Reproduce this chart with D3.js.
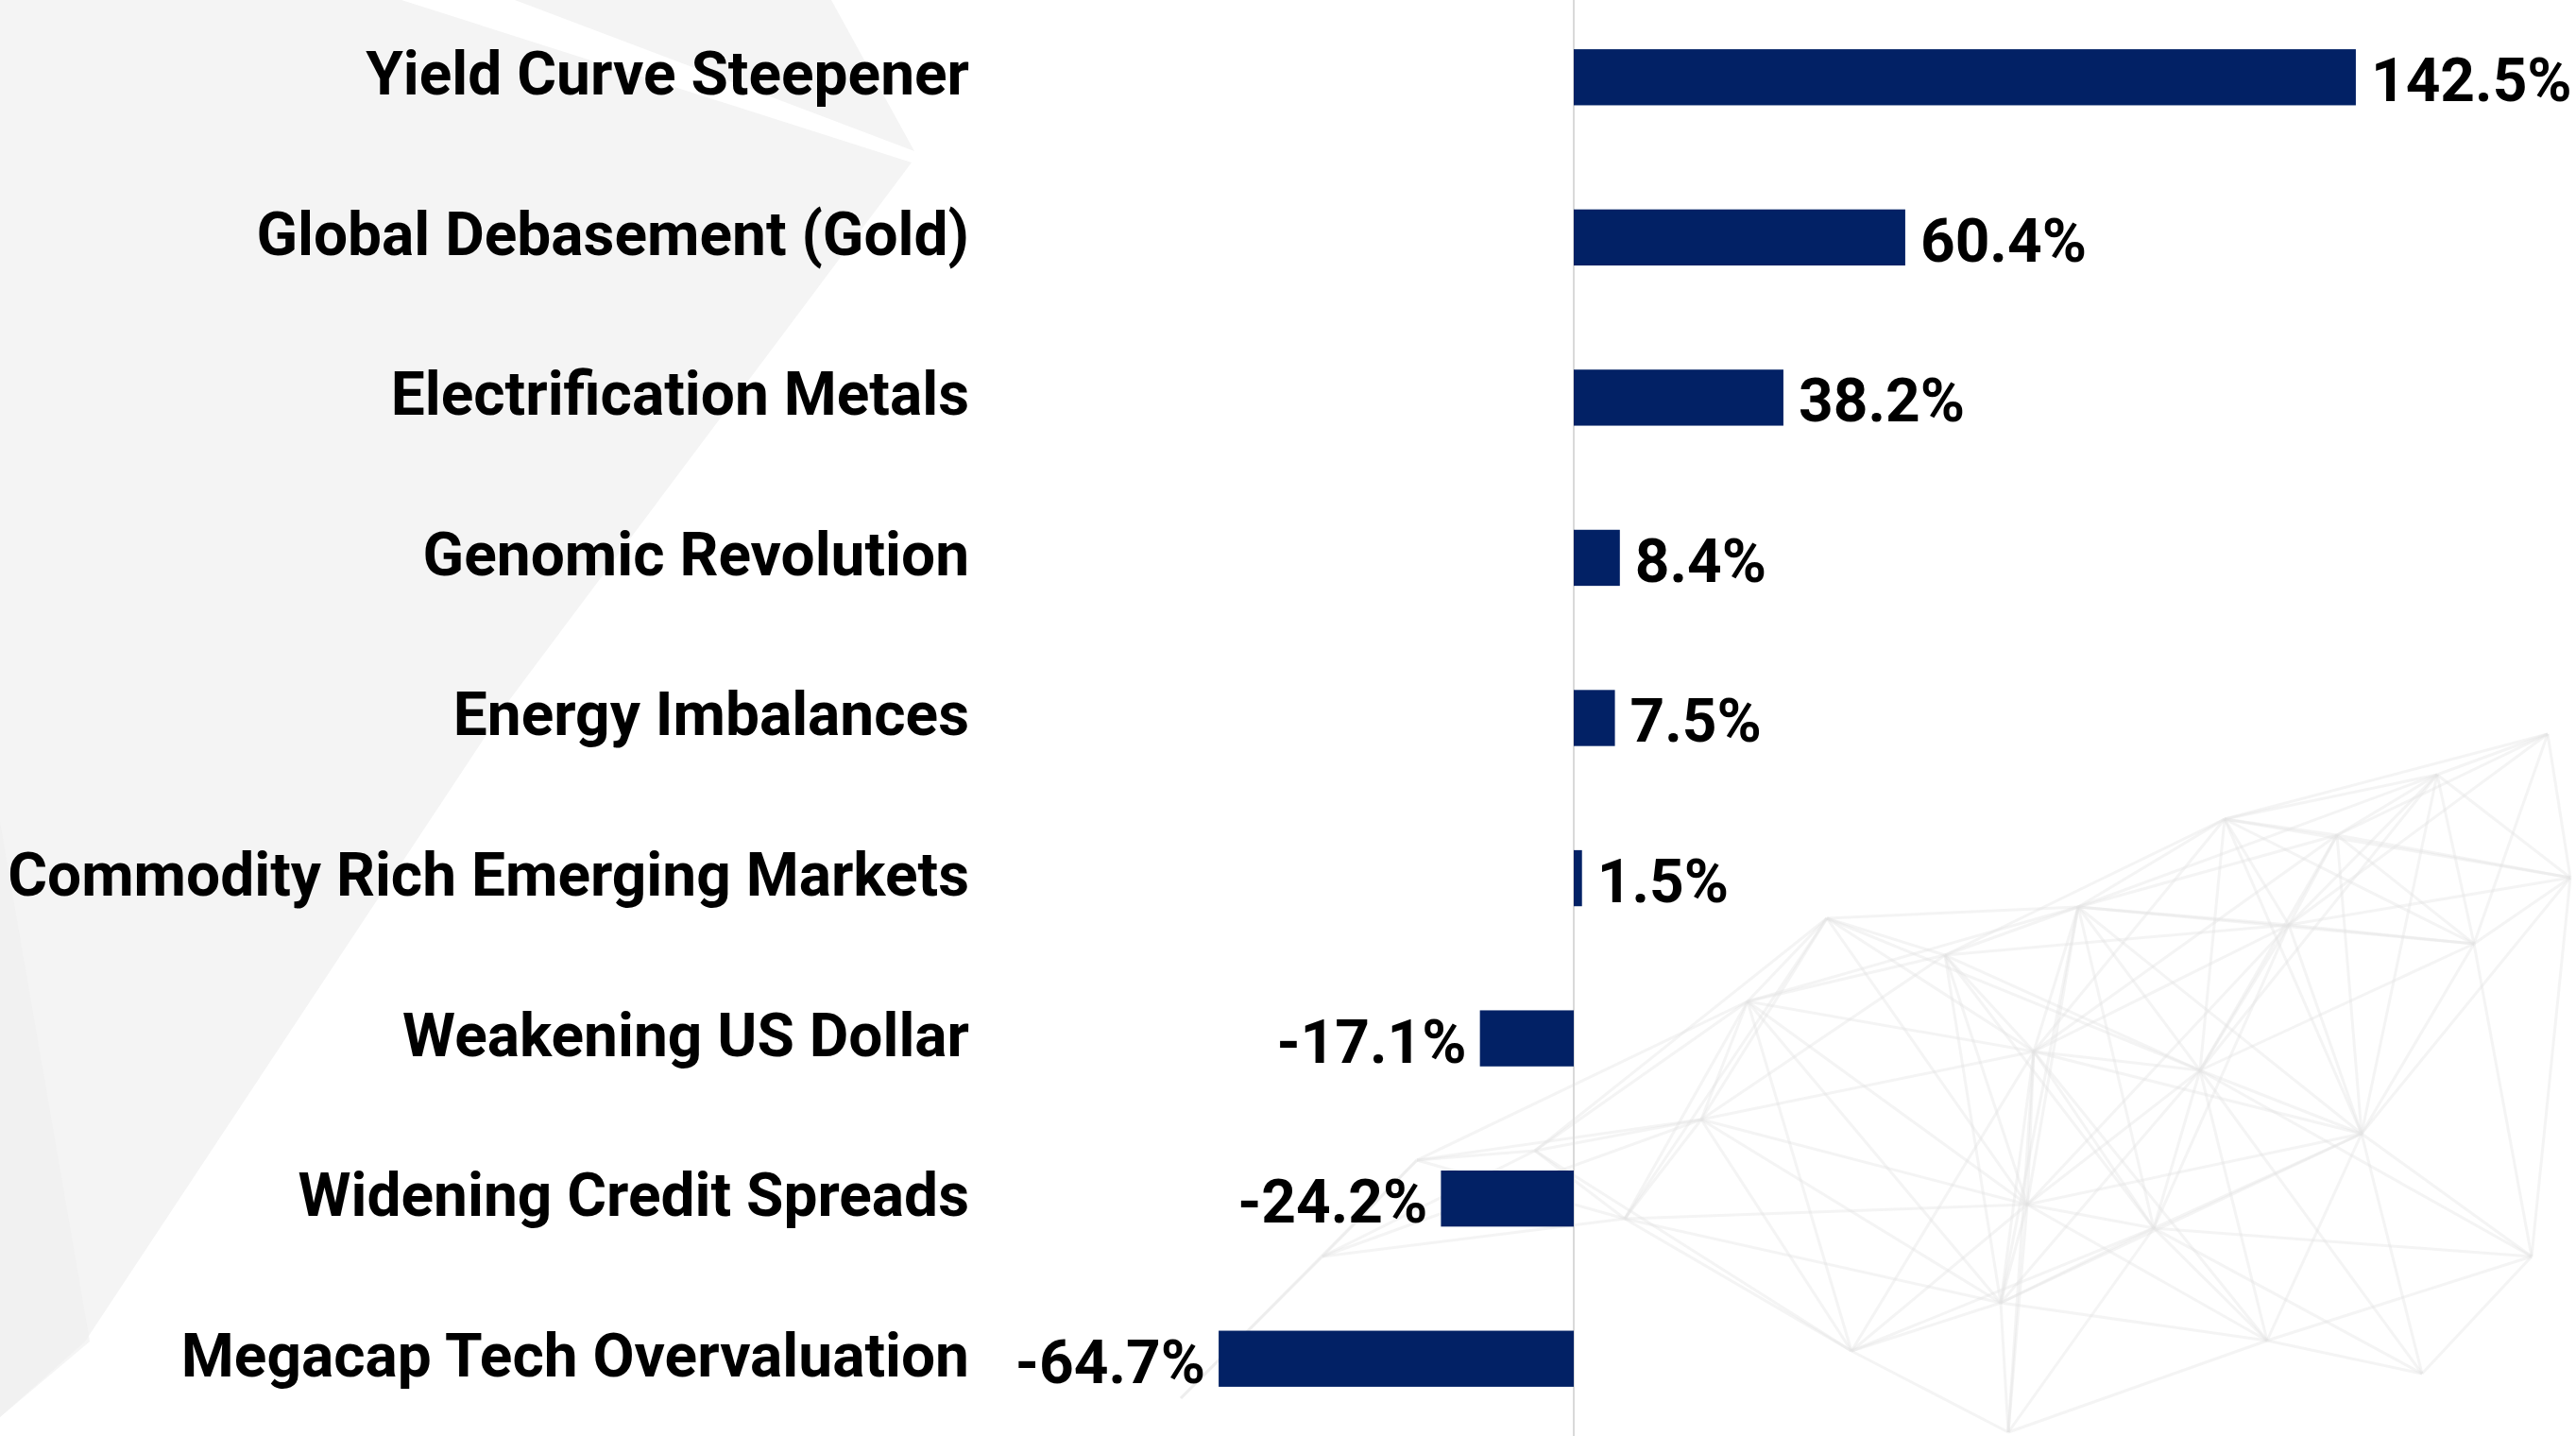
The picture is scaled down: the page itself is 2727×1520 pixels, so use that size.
<!DOCTYPE html>
<html>
<head>
<meta charset="utf-8">
<script src="https://cdn.jsdelivr.net/npm/d3@7"></script>
<style>
  html, body { margin: 0; padding: 0; background: #ffffff; }
  svg { display: block; }
  text { font-family: Roboto, "Noto Sans", sans-serif; font-weight: 700; fill: #000; }
</style>
</head>
<body>
<svg id="chart" width="2727" height="1520"></svg>
<script>
// ---- data ----
const categories = [
  "Yield Curve Steepener",
  "Global Debasement (Gold)",
  "Electrification Metals",
  "Genomic Revolution",
  "Energy Imbalances",
  "Commodity Rich Emerging Markets",
  "Weakening US Dollar",
  "Widening Credit Spreads",
  "Megacap Tech Overvaluation"
];
const values = [142.5, 60.4, 38.2, 8.4, 7.5, 1.5, -17.1, -24.2, -64.7];
const xDomain = [-120, 160];

// ---- decorative background (not data) ----
const bgNodes = [
  [1934, 972], [2059, 1011], [2153, 1113], [2329, 1133], [2355, 867],
  [2474, 884], [2697, 777], [2619, 999], [1801, 1185], [2146, 1275],
  [2118, 1379], [2400, 1419], [2564, 1454], [2126, 1516], [2423, 979],
  [1625, 1218], [1500, 1228], [2721, 929], [1720, 1290], [1960, 1430],
  [2280, 1300], [2500, 1200], [1400, 1330], [1250, 1480], [2680, 1330],
  [2580, 820], [2200, 960], [1850, 1060]
];

const W = 2727, H = 1520;
const svg = d3.select("#chart");

// background shapes
const bg = svg.append("g");
bg.append("path")
  .attr("d", "M0,0 L425,0 L965,172 L540,740 L90,1420 L0,1500 Z")
  .attr("fill", "#f4f4f4");
bg.append("path")
  .attr("d", "M545,0 L880,0 L968,160 Z")
  .attr("fill", "#f4f4f4");
bg.append("path")
  .attr("d", "M0,870 L95,1420 L0,1500 Z")
  .attr("fill", "#efefef").attr("opacity", 0.6);

// network lines
const net = bg.append("g").attr("stroke", "#e4e4e4").attr("fill", "none");
for (let i = 0; i < bgNodes.length; i++) {
  for (let j = i + 1; j < bgNodes.length; j++) {
    const dx = bgNodes[i][0] - bgNodes[j][0], dy = bgNodes[i][1] - bgNodes[j][1];
    const d = Math.sqrt(dx * dx + dy * dy);
    if (d < 430) {
      net.append("line")
        .attr("x1", bgNodes[i][0]).attr("y1", bgNodes[i][1])
        .attr("x2", bgNodes[j][0]).attr("y2", bgNodes[j][1])
        .attr("stroke-width", 3)
        .attr("opacity", 0.4);
    }
  }
}

// ---- scales ----
const x = d3.scaleLinear().domain(xDomain).range([968.8, 2595.6]);
const y = d3.scaleBand().domain(categories).range([-3, 1523]).paddingInner(0.65).paddingOuter(0.325);

// zero line
svg.append("line")
  .attr("x1", x(0)).attr("x2", x(0))
  .attr("y1", 0).attr("y2", H)
  .attr("stroke", "#d9d9d9").attr("stroke-width", 2);

// bars
svg.append("g").selectAll("rect")
  .data(values)
  .join("rect")
  .attr("x", d => Math.min(x(0), x(d)))
  .attr("width", d => Math.abs(x(d) - x(0)))
  .attr("y", (d, i) => y(categories[i]))
  .attr("height", y.bandwidth())
  .attr("fill", "#022165");

// category labels
svg.append("g").selectAll("text")
  .data(categories)
  .join("text")
  .attr("x", 1026)
  .attr("y", d => y(d) + y.bandwidth() / 2 - 2)
  .attr("dy", "0.32em")
  .attr("text-anchor", "end")
  .attr("font-size", 64)
  .text(d => d);

// value labels
const fmt = d3.formatLocale({ decimal: ".", thousands: ",", grouping: [3], currency: ["", ""], minus: "-" }).format(".1f");
svg.append("g").selectAll("text")
  .data(values)
  .join("text")
  .attr("x", d => d >= 0 ? x(d) + 16 : x(d) - 14)
  .attr("y", (d, i) => y(categories[i]) + y.bandwidth() / 2 + 3)
  .attr("dy", "0.35em")
  .attr("text-anchor", d => d >= 0 ? "start" : "end")
  .attr("font-size", 64)
  .text(d => fmt(d) + "%");
</script>
</body>
</html>
